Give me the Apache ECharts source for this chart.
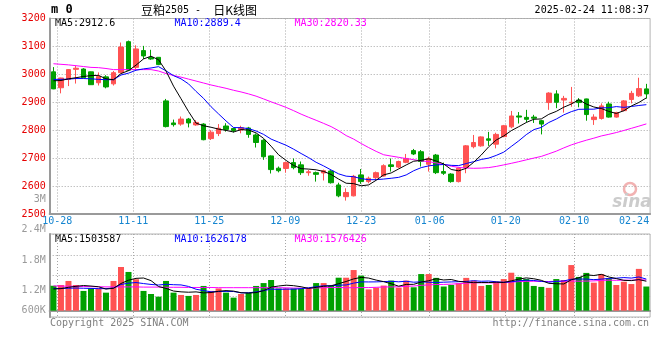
<!DOCTYPE html>
<html><head><meta charset="utf-8">
<script src="https://cdn.jsdelivr.net/npm/echarts@6/dist/echarts.min.js"></script>
<style>html,body{margin:0;padding:0;background:#fff}#c{width:660px;height:360px}</style>
</head><body><div id="c"></div>
<script>
const dates = ['10-25','10-28','10-29','10-30','10-31','11-01','11-04','11-05','11-06','11-07','11-08','11-11','11-12','11-13','11-14','11-15','11-18','11-19','11-20','11-21','11-22','11-25','11-26','11-27','11-28','11-29','12-02','12-03','12-04','12-05','12-06','12-09','12-10','12-11','12-12','12-13','12-16','12-17','12-18','12-19','12-20','12-23','12-24','12-25','12-26','12-27','12-30','12-31','01-02','01-03','01-06','01-07','01-08','01-09','01-10','01-13','01-14','01-15','01-16','01-17','01-20','01-21','01-22','01-23','01-24','01-27','02-05','02-06','02-07','02-10','02-11','02-12','02-13','02-14','02-17','02-18','02-19','02-20','02-21','02-24'];
const tickDates = ['10-28','11-11','11-25','12-09','12-23','01-06','01-20','02-10','02-24'];

const open  = [3009,2952,2982,3018,3019,3009,2970,2991,2966,3006,3117,3025,3085,3060,3061,2905,2826,2822,2840,2819,2822,2770,2788,2815,2806,2801,2808,2783,2764,2708,2664,2663,2684,2676,2648,2648,2647,2654,2604,2562,2565,2640,2616,2630,2636,2676,2668,2685,2727,2723,2678,2711,2652,2643,2616,2666,2741,2744,2769,2750,2777,2812,2851,2846,2847,2834,2899,2930,2908,2898,2908,2912,2838,2842,2894,2847,2870,2910,2923,2948];
const close = [2948,2987,3017,3022,2988,2963,2992,2955,3006,3098,3015,3091,3066,3055,3035,2813,2820,2840,2826,2828,2766,2793,2807,2803,2799,2809,2785,2756,2705,2659,2655,2684,2666,2648,2651,2642,2655,2612,2565,2577,2635,2616,2628,2648,2673,2670,2688,2699,2715,2688,2699,2648,2646,2616,2664,2744,2756,2776,2764,2785,2816,2851,2847,2839,2843,2822,2933,2900,2914,2900,2899,2856,2847,2887,2847,2863,2905,2932,2949,2930];
const low   = [2947,2932,2958,2967,2986,2962,2960,2950,2960,3004,3012,3017,3055,3052,3033,2810,2813,2816,2810,2816,2764,2765,2779,2795,2792,2789,2773,2738,2694,2645,2649,2648,2660,2640,2637,2616,2620,2609,2560,2548,2563,2608,2610,2622,2634,2652,2664,2682,2711,2670,2652,2643,2640,2612,2613,2646,2735,2741,2744,2735,2775,2807,2824,2828,2826,2785,2873,2879,2863,2884,2882,2834,2819,2838,2845,2845,2868,2896,2919,2913];
const high  = [3026,2988,3019,3031,3022,3010,3007,2997,3012,3114,3121,3104,3102,3088,3062,2912,2838,2849,2844,2836,2825,2800,2822,2825,2809,2816,2812,2788,2768,2710,2670,2688,2699,2688,2658,2652,2659,2657,2612,2592,2640,2661,2634,2652,2678,2699,2691,2715,2733,2729,2705,2715,2684,2646,2666,2747,2783,2778,2794,2791,2819,2869,2865,2873,2855,2837,2936,2943,2923,2955,2915,2913,2857,2896,2902,2866,2908,2941,2988,2966];

const ma5  = [2977,2978,2984,2988,2992.4,2995.4,2996.4,2984.0,2980.8,3002.8,3013.2,3033.0,3055.2,3065.0,3052.4,3012.0,2957.8,2912.6,2866.8,2825.4,2816.0,2810.6,2804.0,2799.4,2793.6,2802.2,2800.6,2790.4,2770.8,2742.8,2712.0,2691.8,2673.8,2662.4,2660.8,2658.2,2652.4,2641.6,2625.0,2610.2,2608.8,2601.0,2604.2,2620.8,2640.0,2647.0,2661.4,2675.6,2689.0,2692.0,2697.8,2689.8,2679.2,2659.4,2654.6,2663.6,2685.2,2711.2,2740.8,2765.0,2779.4,2798.4,2812.6,2827.6,2839.2,2840.4,2856.8,2867.4,2882.4,2893.8,2909.2,2893.8,2883.2,2877.8,2867.2,2860.0,2869.8,2886.8,2899.2,2915.8];
const ma10 = [2982,2982,2983,2985,2985,2984,2982,2981,2981,2997.6,3004.3,3014.7,3019.6,3022.9,3027.6,3012.6,2995.4,2983.9,2965.9,2938.9,2914.0,2884.2,2858.3,2833.1,2809.5,2809.1,2805.6,2797.2,2785.1,2768.2,2757.1,2746.2,2732.1,2716.6,2701.8,2685.1,2672.1,2657.7,2643.7,2635.5,2633.5,2626.7,2622.9,2622.9,2625.1,2627.9,2631.2,2639.9,2654.9,2666.0,2672.4,2675.6,2677.4,2674.2,2673.3,2680.7,2687.5,2695.2,2700.1,2709.8,2721.5,2741.8,2761.9,2784.2,2802.1,2809.9,2827.6,2840.0,2855.0,2866.5,2874.8,2875.3,2875.3,2880.1,2880.5,2884.6,2881.8,2885.0,2888.5,2891.5];
const ma30 = [3038,3036,3034,3031,3028,3025,3024,3021,3017,3017,3017,3017,3017,3017,3012,3003,2996,2990,2983,2976,2969,2962,2956,2950,2943,2937,2930,2922,2912,2901.6,2891.8,2881.7,2870.0,2857.5,2846.3,2835.6,2824.4,2812.9,2798.2,2780.9,2768.2,2752.4,2737.8,2724.2,2712.1,2707.4,2703.0,2698.3,2694.6,2689.9,2687.7,2682.8,2677.5,2671.2,2666.7,2664.6,2663.6,2664.3,2666.2,2670.4,2675.8,2681.4,2687.4,2693.8,2700.2,2706.2,2715.4,2725.0,2736.7,2747.4,2756.2,2764.2,2771.5,2779.5,2785.3,2791.7,2799.0,2806.7,2814.5,2822.6];

// volume in units of 10,000 lots
const volume = [130,134,155,134,103,116,116,94,155,228,202,164,103,87,73,155,94,82,77,82,129,103,116,94,68,87,94,129,144,160,116,116,116,116,116,144,144,129,172,172,212,183,111,120,131,157,120,157,122,191,191,171,126,134,143,171,157,129,134,151,165,198,176,165,129,124,119,165,160,238,176,197,146,191,169,134,151,139,218,126];
const volMa5  = [113,115,122,127,131.2,128.4,124.8,112.6,116.8,141.8,159.0,168.6,170.4,156.8,125.8,116.4,102.4,98.2,96.2,98.0,92.8,94.6,101.4,104.8,102.0,93.6,91.8,94.4,104.4,122.8,128.6,133.0,130.4,124.8,116.0,121.6,127.2,129.8,141.0,152.2,165.8,173.6,170.0,159.6,151.4,140.4,127.8,137.0,137.4,149.4,156.2,166.4,160.2,162.6,153.0,149.0,146.2,146.8,146.8,148.4,147.2,155.4,164.8,171.0,166.6,158.4,142.6,140.4,139.4,161.2,171.6,187.2,183.4,189.6,175.8,167.4,158.2,156.8,162.2,153.6];
const volMa10 = [116,116,117,118,117,116,115,115,118,136.5,143.7,146.7,141.5,136.8,133.8,137.7,135.5,134.3,126.5,111.9,104.6,98.5,99.8,100.5,100.0,93.2,93.2,97.9,104.6,112.4,111.1,112.4,112.4,114.6,119.4,125.1,130.1,130.1,132.9,134.1,143.7,150.4,149.9,150.3,151.8,153.1,150.7,153.5,148.5,150.4,148.3,147.1,148.6,150.0,151.2,152.6,156.3,153.5,154.7,150.7,148.1,150.8,155.8,158.9,157.5,152.8,149.0,152.6,155.2,163.9,165.0,164.9,161.9,164.5,168.5,169.5,172.7,170.1,175.9,164.7];
const volMa30 = [129,128,128,127,126,125,125,124,124,124,124,124,123,123,123,122,122,122,121,121,121,121,120,120,120,120,120,120,120,120.3,119.8,119.2,117.9,117.3,117.7,118.7,119.6,120.8,121.3,119.5,119.8,120.4,120.7,121.8,123.7,123.8,124.7,127.2,128.7,132.3,134.4,136.6,137.0,138.3,140.8,143.6,145.7,145.7,145.4,145.1,146.7,149.4,151.4,153.1,153.5,152.8,152.0,153.2,152.8,155.0,153.8,154.3,155.4,157.8,159.1,158.3,159.3,158.7,161.9,159.8];
const volUnit = 10000;

const priceMin = 2500, priceMax = 3200, priceStep = 100;
const volLabelTicks = [600000, 3000000, 600000]; // min, max, step of volume label scale
const priceLegend = ['MA5:2912.6', 'MA10:2889.4', 'MA30:2820.33'];
const volLegend = ['MA5:1503587', 'MA10:1626178', 'MA30:1576426'];
const titleParts = ['豆粕', '2505', ' -  ', '日K线图'];
const symbolText = 'm 0';
const timeText = '2025-02-24 11:08:37';
const footLeft = 'Copyright 2025 SINA.COM';
const footRight = 'http://finance.sina.com.cn';

const mono = '"DejaVu Sans Mono", "Liberation Mono", monospace';
const cjk = '"Noto Sans CJK SC", sans-serif';
const RED = '#ff5252', GREEN = '#00a000';
const dotted = { color: '#a6a6a6', type: [1, 2], width: 1 };
const isTick = (i, v) => tickDates.indexOf(v) >= 0;
const isGrid = (i, v) => tickDates.indexOf(v) >= 0 && i < dates.length - 1;

const candleData = dates.map((d, i) => [open[i], close[i], low[i], high[i]]);
const scaleVol = arr => arr.map(v => v * volUnit);
const lineColors = ['#000000', '#0000ff', '#ff00ff'];

const chart = echarts.init(document.getElementById('c'), null, { renderer: 'canvas' });
const maLine = (data, k, xi, yi, z) => ({ type: 'line', xAxisIndex: xi, yAxisIndex: yi, data: data, symbol: 'none',
  lineStyle: { color: lineColors[k], width: 1 }, z: z });
const option = {
  animation: false,
  backgroundColor: '#ffffff',
  grid: [
    { left: 49.7, top: 18.5, width: 600.4, height: 195.5, show: true, borderColor: '#b4b4b4', borderWidth: 1 },
    { left: 49.7, top: 234, width: 600.4, height: 83, show: true, borderColor: '#b4b4b4', borderWidth: 1 },
    { left: 49.7, top: 199.5, width: 600.4, height: 121.3 }
  ],
  xAxis: [
    { type: 'category', gridIndex: 0, data: dates, boundaryGap: true, position: 'bottom',
      axisLine: { lineStyle: { color: '#9a9a9a', width: 2 } }, axisTick: { show: false },
      axisLabel: { show: false }, splitLine: { show: false } },
    { type: 'category', gridIndex: 0, data: dates, boundaryGap: false, position: 'bottom',
      axisLine: { show: false }, axisTick: { show: false },
      axisLabel: { interval: isTick, color: '#1585d0', fontFamily: mono, fontSize: 10, margin: 2,
        formatter: (v, i) => i === dates.length - 1 ? '{r|' + v + '}' : v,
        rich: { r: { padding: [0, 32, 0, 0], color: '#1585d0', fontFamily: mono, fontSize: 10 } } },
      splitLine: { show: true, interval: isGrid, lineStyle: dotted } },
    { type: 'category', gridIndex: 1, data: dates, boundaryGap: true, position: 'bottom',
      axisLine: { lineStyle: { color: '#9a9a9a', width: 2 } }, axisTick: { show: false },
      axisLabel: { show: false }, splitLine: { show: false } },
    { type: 'category', gridIndex: 1, data: dates, boundaryGap: false, position: 'bottom',
      axisLine: { show: false }, axisTick: { show: false }, axisLabel: { show: false },
      splitLine: { show: true, interval: isGrid, lineStyle: dotted } },
    { type: 'category', gridIndex: 2, data: dates, show: false }
  ],
  yAxis: [
    { type: 'value', gridIndex: 0, min: priceMin, max: priceMax, interval: priceStep, position: 'left',
      axisLine: { show: true, lineStyle: { color: '#9a9a9a', width: 2 } }, axisTick: { show: false },
      axisLabel: { color: '#e60000', fontFamily: mono, fontSize: 10, margin: 4, padding: [0, 0, 4, 0],
        showMinLabel: true, showMaxLabel: true, formatter: v => String(v) },
      splitLine: { show: true, lineStyle: dotted } },
    { type: 'value', gridIndex: 1, min: -330000, max: 4000000, position: 'left',
      axisLine: { show: false }, axisTick: { show: false }, axisLabel: { show: false }, splitLine: { show: false } },
    { type: 'value', gridIndex: 1, min: 0, max: 4, interval: 1, position: 'left',
      axisLine: { show: true, lineStyle: { color: '#9a9a9a', width: 2 } }, axisTick: { show: false },
      axisLabel: { show: false }, splitLine: { show: true, lineStyle: dotted } },
    { type: 'value', gridIndex: 2, min: volLabelTicks[0], max: volLabelTicks[1], interval: volLabelTicks[2], position: 'left',
      axisLine: { show: false }, axisTick: { show: false }, splitLine: { show: false },
      axisLabel: { color: '#9a9a9a', fontFamily: mono, fontSize: 10, margin: 4, showMinLabel: true, showMaxLabel: true,
        formatter: v => v >= 1000000 ? (v / 1000000) + 'M' : '{k|' + (v / 1000) + 'K}',
        rich: { k: { padding: [0, 0, 20, 0], color: '#9a9a9a', fontFamily: mono, fontSize: 10 } } } }
  ],
  series: [
    { type: 'candlestick', xAxisIndex: 0, yAxisIndex: 0, data: candleData, barWidth: 5,
      itemStyle: { color: RED, color0: GREEN, borderColor: RED, borderColor0: GREEN, borderWidth: 1 }, z: 2 },
    maLine(ma5, 0, 0, 0, 5), maLine(ma10, 1, 0, 0, 4), maLine(ma30, 2, 0, 0, 3),
    { type: 'bar', xAxisIndex: 2, yAxisIndex: 1, data: scaleVol(volume), barWidth: 6,
      itemStyle: { color: p => close[p.dataIndex] >= open[p.dataIndex] ? RED : GREEN } },
    maLine(scaleVol(volMa5), 0, 2, 1, 5), maLine(scaleVol(volMa10), 1, 2, 1, 4), maLine(scaleVol(volMa30), 2, 2, 1, 3)
  ],
  graphic: [
    { type: 'text', x: 51, y: 10, style: { text: symbolText, font: 'bold 12px ' + mono, fill: '#000', verticalAlign: 'middle' } },
    { type: 'text', x: 141, y: 10, style: { text: '{a|' + titleParts[0] + '}{b|' + titleParts[1] + titleParts[2] + '}{a|' + titleParts[3] + '}', verticalAlign: 'middle',
        rich: { a: { fontFamily: cjk, fontSize: 12, color: '#000' }, b: { fontFamily: mono, fontSize: 10, color: '#444' } } } },
    { type: 'text', x: 649, y: 10, style: { text: timeText, font: '10px ' + mono, fill: '#000', align: 'right', verticalAlign: 'middle' } },
    { type: 'text', x: 55, y: 23.5, style: { text: priceLegend[0], font: '10px ' + mono, fill: lineColors[0], verticalAlign: 'middle' } },
    { type: 'text', x: 174.5, y: 23.5, style: { text: priceLegend[1], font: '10px ' + mono, fill: lineColors[1], verticalAlign: 'middle' } },
    { type: 'text', x: 294.5, y: 23.5, style: { text: priceLegend[2], font: '10px ' + mono, fill: lineColors[2], verticalAlign: 'middle' } },
    { type: 'text', x: 55, y: 239, style: { text: volLegend[0], font: '10px ' + mono, fill: lineColors[0], verticalAlign: 'middle' } },
    { type: 'text', x: 174.5, y: 239, style: { text: volLegend[1], font: '10px ' + mono, fill: lineColors[1], verticalAlign: 'middle' } },
    { type: 'text', x: 294.5, y: 239, style: { text: volLegend[2], font: '10px ' + mono, fill: lineColors[2], verticalAlign: 'middle' } },
    { type: 'text', x: 50, y: 323.5, style: { text: footLeft, font: '10px ' + mono, fill: '#808080', verticalAlign: 'middle' } },
    { type: 'text', x: 649, y: 323.5, style: { text: footRight, font: '10px ' + mono, fill: '#808080', align: 'right', verticalAlign: 'middle' } },
    { type: 'circle', shape: { cx: 630, cy: 189, r: 6 }, style: { fill: 'none', stroke: '#f2b2b2', lineWidth: 2.5 } },
    { type: 'text', x: 632, y: 203, style: { text: 'sina', font: 'italic bold 17px "DejaVu Sans", sans-serif', fill: '#cccccc', align: 'center', verticalAlign: 'middle' } }
  ]
};
chart.setOption(option);
</script>
</body></html>
